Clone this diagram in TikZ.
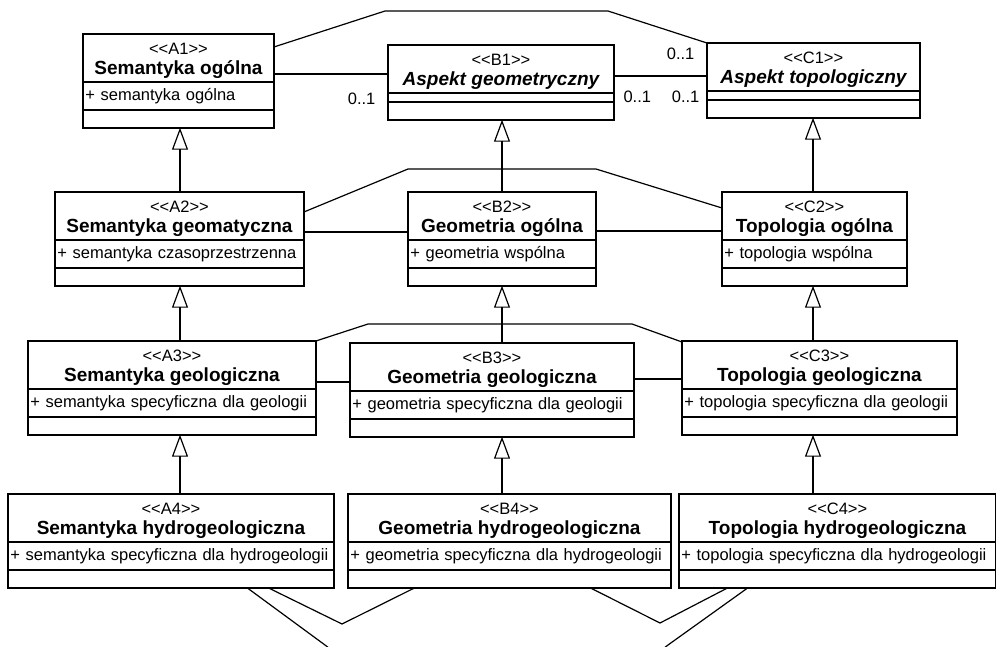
\documentclass[tikz,border=0pt]{standalone}
\usepackage{fontspec}
\newfontfamily\umlfont{Liberation Sans}
\usepackage{tikz}
\usetikzlibrary{arrows.meta, positioning}

\newcommand{\clsname}{\fontsize{19}{20}\selectfont\bfseries}
% one class box: name, corner, width, stereotype, title, attribute, attribute height
\newcommand{\umlclass}[7]{%
  \node[clshead, text width=#3] (#1) at (#2) {\rule{0pt}{18pt}<<#4>>\\{\clsname #5}};
  \node[clsattr, text width=#3, minimum height=#7, below=0pt of #1] (#1a) {\noindent\hspace{2pt}#6};
  \node[clsops, text width=#3, below=0pt of #1a] (#1o) {};
  \draw[clsframe] (#1.north west) rectangle (#1o.south east);
}

\begin{document}
\begin{tikzpicture}[x=1pt, y=-1pt,
    font=\umlfont\fontsize{16.5}{20}\selectfont,
    clshead/.style={draw, line width=0.9pt, anchor=north west, inner sep=0pt,
                    minimum height=47pt, align=center},
    clsattr/.style={draw, line width=0.9pt, inner sep=0pt, align=left},
    clsops/.style={draw, line width=0.9pt, inner sep=0pt, minimum height=17pt},
    clsframe/.style={line width=1.8pt},
    assoc/.style={line width=1.2pt},
    inherit/.style={line width=1.2pt, -{Triangle[open, length=22pt, width=16pt]}},
    mult/.style={inner sep=0pt}]

  \useasboundingbox[fill=white] (0,0) rectangle (996,646);
  \clip (0,0) rectangle (996,646);

  \umlclass{A1}{83,34}{190pt}{A1}{Semantyka ogólna}{+ semantyka ogólna}{27pt}
  \umlclass{B1}{388,45}{225pt}{B1}{\itshape Aspekt geometryczny}{}{8pt}
  \umlclass{C1}{707,43}{212pt}{C1}{\itshape Aspekt topologiczny}{}{8pt}

  \umlclass{A2}{55,192}{248pt}{A2}{Semantyka geomatyczna}{+ semantyka czasoprzestrzenna}{27pt}
  \umlclass{B2}{408,192}{187pt}{B2}{Geometria ogólna}{+ geometria wspólna}{27pt}
  \umlclass{C2}{722,192}{184pt}{C2}{Topologia ogólna}{+ topologia wspólna}{27pt}

  \umlclass{A3}{28,341}{287pt}{A3}{Semantyka geologiczna}{+ semantyka specyficzna dla geologii}{27pt}
  \umlclass{B3}{350,343}{283pt}{B3}{Geometria geologiczna}{+ geometria specyficzna dla geologii}{27pt}
  \umlclass{C3}{682,341}{274pt}{C3}{Topologia geologiczna}{+ topologia specyficzna dla geologii}{27pt}

  \umlclass{A4}{8,494}{325pt}{A4}{Semantyka hydrogeologiczna}{+ semantyka specyficzna dla hydrogeologii}{27pt}
  \umlclass{B4}{348,494}{322pt}{B4}{Geometria hydrogeologiczna}{+ geometria specyficzna dla hydrogeologii}{27pt}
  \umlclass{C4}{679,494}{316pt}{C4}{Topologia hydrogeologiczna}{+ topologia specyficzna dla hydrogeologii}{27pt}

  % generalisation columns
  \coordinate (colA) at (180,0);
  \coordinate (colB) at (502,0);
  \coordinate (colC) at (813,0);

  \draw[inherit] (A2.north -| colA) -- (A1o.south -| colA);
  \draw[inherit] (B2.north -| colB) -- (B1o.south -| colB);
  \draw[inherit] (C2.north -| colC) -- (C1o.south -| colC);
  \draw[inherit] (A3.north -| colA) -- (A2o.south -| colA);
  \draw[inherit] (B3.north -| colB) -- (B2o.south -| colB);
  \draw[inherit] (C3.north -| colC) -- (C2o.south -| colC);
  \draw[inherit] (A4.north -| colA) -- (A3o.south -| colA);
  \draw[inherit] (B4.north -| colB) -- (B3o.south -| colB);
  \draw[inherit] (C4.north -| colC) -- (C3o.south -| colC);

  % associations, top row
  \draw[assoc] ([yshift=-13pt]A1.north east) -- (385,11) -- (608,11) -- (C1.north west)
    node[mult, anchor=north east, xshift=-12pt, yshift=-4pt] (m1) {0..1};
  \draw[assoc] ([yshift=-40pt]A1.north east) -- ([yshift=-29pt]B1.north west)
    node[mult, anchor=north east, xshift=-12pt, yshift=-18pt] (m2) {0..1};
  \draw[assoc] ([yshift=-31pt]B1.north east)
    node[mult, anchor=north west, xshift=9pt, yshift=-14pt] (m3) {0..1}
    -- ([yshift=-33pt]C1.north west)
    node[mult, anchor=north east, xshift=-7pt, yshift=-14pt] (m4) {0..1};

  % associations, second row
  \draw[assoc] ([yshift=-20pt]A2.north east) -- (408,169) -- (596,169) -- ([yshift=-16pt]C2.north west);
  \draw[assoc] ([yshift=-40pt]A2.north east) -- ([yshift=-40pt]B2.north west);
  \draw[assoc] ([yshift=-39pt]B2.north east) -- ([yshift=-39pt]C2.north west);

  % associations, third row
  \draw[assoc] (A3.north east) -- (368,324) -- (632,324) -- ([yshift=-1pt]C3.north west);
  \draw[assoc] ([yshift=-41pt]A3.north east) -- ([yshift=-39pt]B3.north west);
  \draw[assoc] ([yshift=-36pt]B3.north east) -- ([yshift=-38pt]C3.north west);

  % associations under the last row
  \draw[assoc] ([xshift=239pt]A4o.south west) -- (325,645) -- (338,655) -- (655,655)
    -- (668,645) -- ([xshift=69pt]C4o.south west);
  \draw[assoc] ([xshift=260pt]A4o.south west) -- (342,624) -- ([xshift=67pt]B4o.south west);
  \draw[assoc] ([xshift=242pt]B4o.south west) -- (660,623) -- ([xshift=49pt]C4o.south west);

\end{tikzpicture}
\end{document}
